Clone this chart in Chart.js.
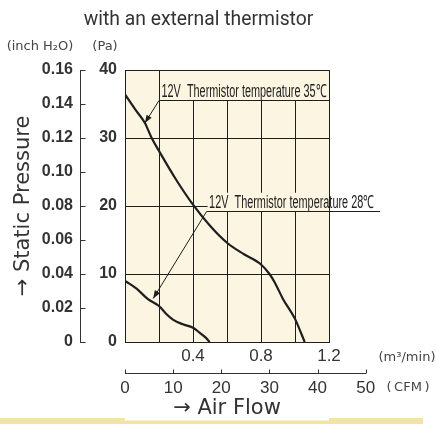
<!DOCTYPE html>
<html><head><meta charset="utf-8">
<script src="https://cdn.jsdelivr.net/npm/chart.js@4/dist/chart.umd.min.js"></script>
<style>html,body{margin:0;padding:0;background:#fff;} #wrap{width:436px;height:424px;position:relative;}</style>
</head><body><div id="wrap"><canvas id="c" width="436" height="424"></canvas></div>
<script>
// ---- data ----
const flow35 = [0, 0.06, 0.117, 0.157, 0.2, 0.3, 0.4, 0.5, 0.6, 0.7, 0.8, 0.85, 0.88, 0.93, 1.0, 1.057];
const pres35 = [36.4, 34.2, 32.2, 30.0, 28.1, 23.9, 20.2, 17.1, 14.6, 12.9, 11.4, 10.0, 8.8, 6.3, 3.4, 0];
const flow28 = [0, 0.07, 0.135, 0.2, 0.24, 0.282, 0.34, 0.4, 0.44, 0.47, 0.498];
const pres28 = [9.0, 7.8, 6.3, 5.3, 4.2, 3.3, 2.6, 2.1, 1.35, 0.75, 0];
const flowLabelTicks = [0.4, 0.8, 1.2];          // m3/min labels shown
const flowRange = [0, 1.2], flowStep = 0.2;
const paRange = [0, 40], paStep = 10;
const inchRange = [0, 0.16], inchStep = 0.02;
const cfmRange = [0, 50], cfmStep = 10;
const M3_PER_CFM = 0.0283168;
const seriesNames = ['12V  Thermistor temperature 35\u2103', '12V  Thermistor temperature 28\u2103'];
const titleText = 'with an external thermistor';
const yTitle = '\u2192 Static Pressure';
const xTitle = '\u2192 Air Flow';
// annotation anchors in data units: underline start/end x, underline y (Pa), arrow tip (x, Pa)
const ann35 = {x0: 0.2, x1: 1.2, y: 35.6, tipX: 0.117, tipY: 32.2};
const ann28 = {x0: 0.48, x1: 1.5, y: 19.3, tipX: 0.166, tipY: 6.4};

const SANS = '"Liberation Sans", Arial, sans-serif';
const INK = '#1e1e1e';
const TXT = '#333333';
const BG = '#fbf5e2';

const toPts = (xs, ys) => xs.map((x, i) => ({x, y: ys[i]}));

const deco = {
  id: 'deco',
  afterLayout(chart) {
    const s = chart.scales.xCfm;
    s.right = chart.scales.x.getPixelForValue(cfmRange[1] * M3_PER_CFM);
    s.width = s.right - s.left;
    s.configure();
  },
  beforeDraw(chart) {
    const {ctx, chartArea: a} = chart;
    ctx.save();
    ctx.fillStyle = BG;
    ctx.fillRect(a.left, a.top, a.right - a.left, a.bottom - a.top);
    ctx.restore();
  },
  beforeDatasetsDraw(chart) {
    const {ctx, chartArea: a, scales: {x, y}} = chart;
    ctx.save();
    const drawAnn = (an, text, top) => {
      const ux0 = x.getPixelForValue(an.x0), ux1 = x.getPixelForValue(an.x1);
      const uy = Math.round(y.getPixelForValue(an.y)) + 0.5;
      ctx.fillStyle = BG;
      const bx1 = Math.min(ux1, a.right);
      ctx.fillRect(ux0 + 1, top, bx1 - ux0 - 1.5, uy - top - 0.5);
      ctx.strokeStyle = INK; ctx.lineWidth = 1;
      ctx.beginPath(); ctx.moveTo(ux0, uy); ctx.lineTo(ux1, uy); ctx.stroke();
      const tx = x.getPixelForValue(an.tipX), ty = y.getPixelForValue(an.tipY);
      ctx.beginPath(); ctx.moveTo(ux0, uy); ctx.lineTo(tx, ty); ctx.stroke();
      const ang = Math.atan2(ty - uy, tx - ux0);
      const L = 8, W = 3;
      ctx.fillStyle = INK;
      ctx.beginPath();
      ctx.moveTo(tx, ty);
      ctx.lineTo(tx - L * Math.cos(ang) + W * Math.sin(ang), ty - L * Math.sin(ang) - W * Math.cos(ang));
      ctx.lineTo(tx - L * Math.cos(ang) - W * Math.sin(ang), ty - L * Math.sin(ang) + W * Math.cos(ang));
      ctx.closePath(); ctx.fill();
      ctx.save();
      ctx.font = '18px ' + SANS;
      const w = ctx.measureText(text).width;
      ctx.translate(ux0 + 2.5, uy - 4);
      ctx.scale(165 / w, 1);
      ctx.fillStyle = '#222';
      ctx.textBaseline = 'alphabetic';
      ctx.textAlign = 'left';
      ctx.fillText(text, 0, 0);
      ctx.restore();
    };
    drawAnn(ann35, seriesNames[0], a.top + 1);
    drawAnn(ann28, seriesNames[1], y.getPixelForValue(ann28.y) - 18);
    ctx.restore();
  },
  afterDraw(chart) {
    const {ctx, chartArea: a, scales: {xCfm, yInch}} = chart;
    ctx.save();
    // secondary axis tick marks (pointing inward)
    ctx.strokeStyle = '#333'; ctx.lineWidth = 1;
    ctx.beginPath();
    const ix = Math.round(yInch.right) + 0.5;
    yInch.ticks.forEach(t => {
      const py = Math.round(yInch.getPixelForValue(t.value)) + 0.5;
      ctx.moveTo(ix, py); ctx.lineTo(ix + 5, py);
    });
    const cy = Math.round(xCfm.top) + 0.5;
    xCfm.ticks.forEach(t => {
      const px = Math.round(xCfm.getPixelForValue(t.value)) + 0.5;
      ctx.moveTo(px, cy); ctx.lineTo(px, cy - 4);
    });
    ctx.stroke();

    ctx.fillStyle = TXT;
    ctx.textBaseline = 'alphabetic';
    ctx.textAlign = 'center';
    ctx.save();
    ctx.translate(198.5, 25);
    ctx.scale(0.92, 1);
    ctx.font = '21px Roboto, sans-serif';
    ctx.fillText(titleText, 0, 0);
    ctx.restore();
    ctx.font = '13px "DejaVu Sans", sans-serif';
    ctx.textBaseline = 'middle';
    ctx.fillStyle = '#444';
    ctx.fillText('(inch H\u2082O)', 40, 47);
    ctx.fillText('(Pa)', 105, 47);
    ctx.fillText('(m\u00b3/min)', 407, 358);
    ctx.fillText('(\u2009CFM\u2009)', 408, 388);
    ctx.fillStyle = TXT;
    ctx.font = '21px "DejaVu Sans", sans-serif';
    ctx.fillText(xTitle, (a.left + a.right) / 2, 409);
    // bottom stripe
    ctx.fillStyle = '#f2e4a3';
    ctx.fillRect(0, 418, 423, 6);
    ctx.fillStyle = '#ffffff';
    ctx.fillRect(a.left, 418, a.right - a.left, 2.5);
    ctx.restore();
  }
};

new Chart(document.getElementById('c'), {
  type: 'scatter',
  data: {
    datasets: [
      {label: seriesNames[0], data: toPts(flow35, pres35)},
      {label: seriesNames[1], data: toPts(flow28, pres28)}
    ].map(d => Object.assign(d, {showLine: true, pointRadius: 0, borderColor: INK, borderWidth: 2.2,
      cubicInterpolationMode: 'monotone', fill: false}))
  },
  options: {
    responsive: false,
    animation: false,
    devicePixelRatio: 1,
    layout: {padding: {top: 70, left: 0, right: 107, bottom: 21}},
    plugins: {legend: {display: false}, tooltip: {enabled: false}, title: {display: false}},
    scales: {
      x: {
        type: 'linear', position: 'bottom', weight: 0, min: flowRange[0], max: flowRange[1],
        ticks: {stepSize: flowStep, autoSkip: false, maxRotation: 0, padding: 4, color: TXT,
          font: {family: SANS, size: 17},
          callback: v => flowLabelTicks.some(t => Math.abs(t - v) < 1e-6) ? v.toFixed(1) : ''},
        grid: {color: INK, lineWidth: 1, drawTicks: false},
        border: {display: true, color: INK, width: 1},
        afterFit: s => { s.height = 31; }
      },
      xCfm: {
        type: 'linear', position: 'bottom', weight: 1, min: cfmRange[0], max: cfmRange[1],
        ticks: {stepSize: cfmStep, autoSkip: false, maxRotation: 0, padding: 5, color: TXT,
          font: {family: SANS, size: 17}},
        grid: {display: false, drawOnChartArea: false, drawTicks: false, tickLength: 0},
        border: {display: true, color: '#333', width: 1},
        afterFit: s => { s.height = 30; }
      },
      y: {
        type: 'linear', position: 'left', weight: 0, min: paRange[0], max: paRange[1],
        ticks: {stepSize: paStep, padding: 8, color: TXT, font: {family: SANS, size: 16, weight: 'bold'}},
        grid: {color: INK, lineWidth: 1, drawTicks: false},
        border: {display: true, color: INK, width: 1},
        afterFit: s => { s.width = 45; }
      },
      yInch: {
        type: 'linear', position: 'left', weight: 1, min: inchRange[0], max: inchRange[1],
        ticks: {stepSize: inchStep, padding: 7, color: TXT, font: {family: SANS, size: 16, weight: 'bold'},
          callback: v => Math.abs(v) < 1e-9 ? '0' : v.toFixed(2)},
        grid: {display: false, drawOnChartArea: false, drawTicks: false, tickLength: 0},
        border: {display: true, color: '#333', width: 1},
        title: {display: true, text: yTitle, color: TXT, font: {family: '"DejaVu Sans", sans-serif', size: 21},
          padding: {top: 11, bottom: 0}},
        afterFit: s => { s.width = 80; }
      }
    }
  },
  plugins: [deco]
});
</script>
</body></html>
